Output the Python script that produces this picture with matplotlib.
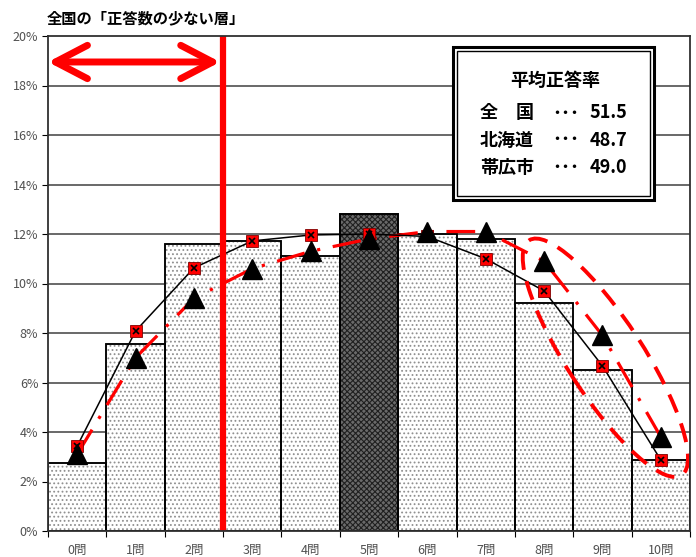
import numpy as np
import matplotlib.pyplot as plt
from matplotlib.patches import Ellipse, Rectangle, FancyArrowPatch
from matplotlib.transforms import ScaledTranslation

plt.rcParams['font.family'] = ['Noto Sans CJK JP', 'DejaVu Sans']
plt.rcParams['hatch.linewidth'] = 0.8

# 正答数の分布（%）
labels = ["0問", "1問", "2問", "3問", "4問", "5問", "6問", "7問", "8問", "9問", "10問"]
obihiro = [2.75, 7.55, 11.6, 11.7, 11.1, 12.8, 12.0, 11.8, 9.2, 6.5, 2.85]
hokkaido = [3.43, 8.08, 10.63, 11.72, 11.96, 12.0, 11.9, 11.0, 9.7, 6.67, 2.87]
zenkoku = [3.1, 7.0, 9.4, 10.6, 11.3, 11.8, 12.1, 12.1, 10.9, 7.9, 3.8]

heikin_names = ["全　国", "北海道", "帯広市"]
heikin_vals = ["51.5", "48.7", "49.0"]

x = np.arange(len(labels))

fig = plt.figure(figsize=(6.96, 5.57), dpi=100)
ax = fig.add_axes([48 / 696, 26 / 557, 642 / 696, 495 / 557])

# 横グリッド
for v in range(2, 20, 2):
    ax.axhline(v, color="#404040", lw=1.1, zorder=0)

# 帯広市の棒
bars = ax.bar(x, obihiro, width=1.0, color="white", edgecolor="#909090",
              linewidth=1.3, hatch="....", zorder=2)
for b in bars:
    # 枠線は黒、点模様は灰色
    ax.add_patch(Rectangle(b.get_xy(), b.get_width(), b.get_height(),
                           fill=False, edgecolor="black", lw=1.3, zorder=2.5))
bars[5].set_facecolor("#6a6a6a")
bars[5].set_hatch("xxxxxx")
bars[5].set_edgecolor("#202020")

# 北海道（黒線＋赤い四角）
ax.plot(x, hokkaido, color="black", lw=1.1, zorder=4)
ax.plot(x, hokkaido, ls="none", marker="s", ms=8, mfc="red", mec="#800000",
        mew=0.6, zorder=5)
ax.plot(x, hokkaido, ls="none", marker="x", ms=5, mec="black", mew=1.2,
        zorder=6)

# 全国（赤の一点鎖線＋黒三角）
ax.plot(x, zenkoku, color="red", lw=2.3, dashes=(9, 4, 1, 4), zorder=3.5)
ax.plot(x, zenkoku, ls="none", marker="^", ms=14, mfc="black", mec="black",
        zorder=7)

# 「正答数の少ない層」の境界
ax.plot([2.5, 2.5], [0, 20], color="red", lw=4.5, solid_capstyle="butt",
        zorder=8)
arrow = FancyArrowPatch((-0.5, 18.95), (2.45, 18.95),
                        arrowstyle="<->,head_length=1.15,head_width=0.6",
                        mutation_scale=20, color="red", lw=5,
                        capstyle="round", joinstyle="round", zorder=8,
                        shrinkA=0, shrinkB=0)
ax.add_patch(arrow)

# 8〜10問を囲む楕円
ell_tr = fig.dpi_scale_trans + ScaledTranslation(9.05, 7.0, ax.transData)
ax.add_patch(Ellipse((0, 0), 2.8, 0.76, angle=-57, fill=False,
                     edgecolor="red", lw=2.8, ls=(0, (5, 3)),
                     transform=ell_tr, zorder=9, clip_on=False))

ax.set_xlim(-0.5, 10.5)
ax.set_ylim(0, 20)
ax.set_yticks(range(0, 21, 2))
ax.set_yticklabels([f"{v}%" for v in range(0, 21, 2)], color="#505050",
                   fontsize=9)
ax.set_xticks(np.arange(-0.5, 11, 1))
ax.set_xticklabels([])
ax.set_xticks(x, minor=True)
ax.set_xticklabels(labels, minor=True, color="#505050", fontsize=9)
ax.tick_params(axis="x", which="minor", length=0, pad=9)
ax.tick_params(axis="x", which="major", length=4, direction="out")
ax.tick_params(axis="y", length=4, direction="out", pad=3)
for s in ax.spines.values():
    s.set_color("#303030")
    s.set_linewidth(1.3)
    s.set_zorder(10)

# タイトル
fig.text(47 / 696, 1 - 18 / 557, "全国の「正答数の少ない層」", fontsize=11,
         fontweight="bold", va="center", ha="left")

# 平均正答率の枠
box_l, box_b, box_w, box_h = 453 / 696, 1 - 200 / 557, 201 / 696, 153 / 557
fig.add_artist(Rectangle((box_l, box_b), box_w, box_h, transform=fig.transFigure,
                         facecolor="white", edgecolor="black", lw=2.2, zorder=11))
pad_x, pad_y = 4 / 696, 4 / 557
fig.add_artist(Rectangle((box_l + pad_x, box_b + pad_y), box_w - 2 * pad_x,
                         box_h - 2 * pad_y, transform=fig.transFigure,
                         fill=False, edgecolor="black", lw=1.0, zorder=12))
fig.text(555 / 696, 1 - 80 / 557, "平均正答率", fontsize=13, fontweight="bold",
         ha="center", va="center", zorder=13)
for i, (n, v) in enumerate(zip(heikin_names, heikin_vals)):
    yy = 1 - (113 + 27 * i) / 557
    fig.text(480 / 696, yy, n, fontsize=13, fontweight="bold", ha="left",
             va="center", zorder=13)
    fig.text(566 / 696, yy, "･･･", fontsize=13, fontweight="bold",
             ha="center", va="center", zorder=13)
    fig.text(590 / 696, yy, v, fontsize=13, fontweight="bold", ha="left",
             va="center", zorder=13)

fig.savefig("out.png", dpi=100)
